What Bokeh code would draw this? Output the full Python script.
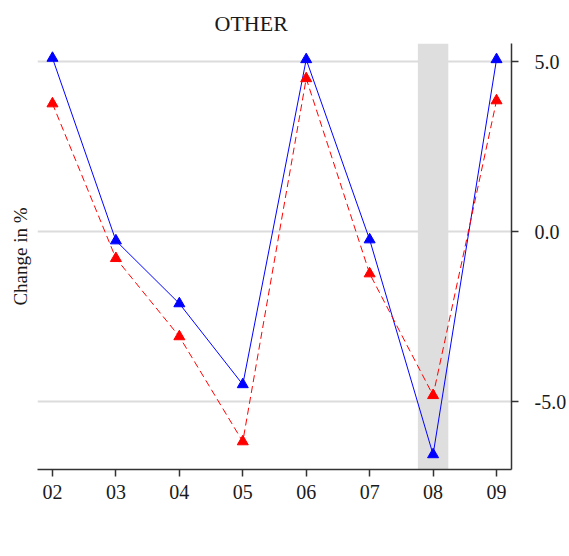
from bokeh.plotting import figure
from bokeh.models import (Range1d, FixedTicker, PrintfTickFormatter, BoxAnnotation,
                          Legend, LegendItem, Title)
from bokeh.embed import file_html
from bokeh.resources import INLINE

years = ["02", "03", "04", "05", "06", "07", "08", "09"]
public = [5.10, -0.27, -2.12, -4.50, 5.06, -0.24, -6.56, 5.06]
private = [3.76, -0.79, -3.09, -6.18, 4.50, -1.24, -4.82, 3.85]
y_ticks = [-5.0, 0.0, 5.0]
shade_year = "08"

FONT = "Liberation Serif"
x = [int(v) for v in years]

p = figure(frame_width=474, frame_height=426, output_backend="svg", toolbar_location=None,
           y_axis_location="right", x_range=Range1d(1.764, 9.236), y_range=Range1d(-7.0, 5.53),
           min_border_left=34, min_border_right=45, min_border_top=41, min_border_bottom=0)
p.outline_line_color = None
p.background_fill_color = "white"

sx = int(shade_year)
band = BoxAnnotation(left=sx - 0.24, right=sx + 0.24, fill_color="#dedede", fill_alpha=1.0,
                     line_color=None, level="underlay")
p.add_layout(band)

l1 = p.line(x, public, line_color="#0000ff", line_width=1)
m1 = p.scatter(x, public, marker="triangle", size=11, fill_color="#0000ff", line_color="#0000ff")
l2 = p.line(x, private, line_color="#ff0000", line_width=1, line_dash="7 4")
m2 = p.scatter(x, private, marker="triangle", size=11, fill_color="#ff0000", line_color="#ff0000")

p.xgrid.visible = False
p.ygrid.ticker = FixedTicker(ticks=y_ticks)
p.ygrid.grid_line_color = "#dcdcdc"
p.ygrid.grid_line_width = 2

p.yaxis.ticker = FixedTicker(ticks=y_ticks)
p.yaxis.formatter = PrintfTickFormatter(format="%.1f")
p.xaxis.ticker = FixedTicker(ticks=x)
p.xaxis.major_label_overrides = {xi: lab for xi, lab in zip(x, years)}
for ax in (p.xaxis, p.yaxis):
    ax.axis_line_color = "#333333"
    ax.axis_line_width = 1.5
    ax.major_tick_line_color = "#333333"
    ax.major_tick_line_width = 1.5
    ax.major_tick_in = 0
    ax.major_tick_out = 7
    ax.minor_tick_line_color = None
    ax.major_label_text_font = FONT
    ax.major_label_text_font_size = "20px"
    ax.major_label_text_color = "#1a1a1a"
p.yaxis.major_label_standoff = 16
p.xaxis.major_label_standoff = 8

p.title.text = "OTHER"
p.title.text_font = FONT
p.title.text_font_size = "22px"
p.title.text_font_style = "normal"
p.title.text_color = "#1a1a1a"
p.title.align = "left"
p.title.offset = 177
p.title.standoff = 16

p.add_layout(Title(text="Change in %", text_font=FONT, text_font_size="19px",
                   text_font_style="normal", text_color="#1a1a1a", align="center",
                   standoff=14), "left")

legend = Legend(items=[LegendItem(label="Public", renderers=[l1, m1]),
                       LegendItem(label="Private", renderers=[l2, m2])],
                orientation="horizontal", location="center",
                label_text_font=FONT, label_text_font_size="22px", label_text_color="#1a1a1a",
                label_height=20, glyph_width=60, glyph_height=20, label_standoff=14, spacing=-6,
                border_line_color=None, background_fill_alpha=0, padding=0, margin=0)
p.add_layout(legend, "below")

open("out.html", "w").write(file_html(p, INLINE))
